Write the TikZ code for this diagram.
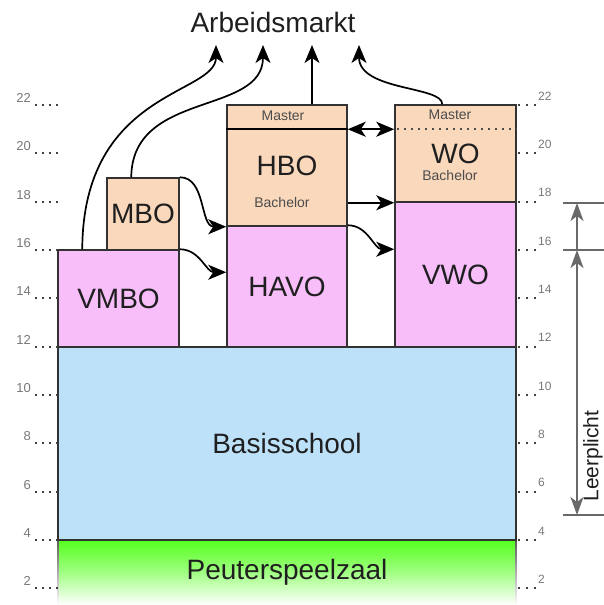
\documentclass[tikz,border=0pt]{standalone}
\usepackage{fontspec}
\setmainfont{Liberation Sans}
\usetikzlibrary{arrows.meta,calc}
\definecolor{blueF}{RGB}{190,225,250}
\definecolor{pinkF}{RGB}{247,190,250}
\definecolor{peachF}{RGB}{250,216,188}
\definecolor{greenF}{RGB}{85,255,30}
\definecolor{edgeC}{RGB}{50,50,50}
\definecolor{axisC}{RGB}{120,120,120}
\definecolor{lpC}{RGB}{105,105,105}
\begin{document}
\begin{tikzpicture}[x=1pt,y=-1pt,
  box/.style={draw=edgeC, line width=1.5pt, inner sep=0pt, font=\fontsize{28}{30}\selectfont, text=black!88},
  small/.style={font=\fontsize{14}{16}\selectfont, text=black!70, inner sep=0pt},
  tip/.tip={Stealth[length=18pt,width=15pt,inset=5pt]},
  ltip/.tip={Stealth[length=18pt,width=13pt,inset=5pt]},
  conn/.style={line width=1.7pt, black, -tip},
  lpline/.style={line width=1.8pt, lpC},
  ldots/.style={dash pattern=on 2pt off 5pt, line width=1.8pt, black!75},
  rdots/.style={dash pattern=on 2pt off 6pt, line width=1.8pt, black!75},
  numL/.style={font=\fontsize{13}{15}\selectfont, text=axisC, inner sep=0pt},
  numR/.style={font=\fontsize{12}{14}\selectfont, text=axisC, inner sep=0pt}]
\useasboundingbox (0,0) rectangle (604,605);

% boxes
\shade[top color=greenF, bottom color=white, middle color=greenF!55] (58,540) rectangle (516,605);
\node[inner sep=0pt, minimum width=458pt, minimum height=65pt,
      font=\fontsize{28}{30}\selectfont, text=black!88] (peuter) at (287,572.5) {Peuterspeelzaal};
\shade[top color=edgeC!80, bottom color=white] (57.25,540) rectangle (58.75,605);
\shade[top color=edgeC!80, bottom color=white] (515.25,540) rectangle (516.75,605);
\node[box, fill=blueF, minimum width=458pt, minimum height=193pt] (basis) at (287,443.5) {Basisschool};
\node[box, fill=pinkF, minimum width=121pt, minimum height=97pt] (vmbo) at (118.5,298.5) {VMBO};
\node[box, fill=peachF, minimum width=72pt, minimum height=72pt] (mbo) at (143,214) {MBO};
\node[box, fill=pinkF, minimum width=120pt, minimum height=121pt] (havo) at (287,286.5) {HAVO};
\node[box, fill=peachF, minimum width=120pt, minimum height=121pt] (hbo) at (287,165.5) {HBO};
\node[box, fill=pinkF, minimum width=121pt, minimum height=145pt] (vwo) at (455.5,274.5) {VWO};
\node[box, fill=peachF, minimum width=121pt, minimum height=97pt] (wo) at (455.5,153.5) {WO};

% small labels
\node[small] (hbomaster) at (283,116) {Master};
\node[small] (hbobach) at (282,202) {Bachelor};
\node[small] (womaster) at (450,115) {Master};
\node[small] (wobach) at (450,175) {Bachelor};

% master lines
\draw[line width=2.2pt, black] ($(hbo.north west)+(0,25)$) -- ($(hbo.north east)+(0,25)$);
\draw[dash pattern=on 2pt off 5pt, line width=1.8pt, black!70] ($(wo.north west)+(3,25)$) -- ($(wo.north east)+(0,25)$);

% axis
\foreach \a in {2,4,...,22}{
  \pgfmathsetmacro\yy{636.68-24.17*\a}
  \draw[ldots] (35,\yy) -- (58,\yy);
  \draw[rdots] (518,\yy) -- (538,\yy);
  \node[numL, anchor=east] (nl\a) at (31,\yy-7) {\a};
  \node[numR, anchor=west] (nr\a) at (538,\yy-9) {\a};
}

% Arbeidsmarkt
\node[font=\fontsize{28}{30}\selectfont, text=black!88, inner sep=0pt] (arb) at (273,22) {Arbeidsmarkt};
\coordinate (a1) at (216,45);
\coordinate (a2) at (263,45);
\coordinate (a3) at (312,45);
\coordinate (a4) at (359,45);
\draw[conn] ($(vmbo.north west)+(25,0)$) .. controls (83,90) and (216,95) .. (a1);
\draw[conn] ($(mbo.north west)+(25,0)$) .. controls (132,90) and (263,116) .. (a2);
\draw[conn] (a3 |- hbo.north) -- (a3);
\draw[conn] ($(wo.north west)+(48,0)$) .. controls (443,86) and (359,91) .. (a4);

% transitions
\draw[conn] (mbo.north east) to[out=0,in=180] (hbo.south west);
\draw[conn] (vmbo.north east) to[out=0,in=180] ($(havo.north west)+(0,47)$);
\draw[conn] (havo.north east) to[out=0,in=180] ($(vwo.north west)+(0,48)$);
\draw[conn] (hbo.east |- wo.south west) -- (wo.south west);
\draw[conn, tip-tip] ($(hbo.north east)+(0,25)$) -- ($(wo.north west)+(0,25)$);

% Leerplicht
\coordinate (lp18) at (577,203);
\coordinate (lp16) at (577,250);
\coordinate (lp5) at (577,515);
\draw[lpline] (563,203) -- (604,203);
\draw[lpline] (563,250) -- (604,250);
\draw[lpline] (563,515) -- (604,515);
\draw[lpline, ltip-ltip] (lp16) -- (lp5);
\draw[lpline, -ltip] (lp16) -- (lp18);
\node[rotate=90, font=\fontsize{21}{23}\selectfont, text=black!88, inner sep=0pt] (lp) at (593,456) {Leerplicht};
\end{tikzpicture}
\end{document}
